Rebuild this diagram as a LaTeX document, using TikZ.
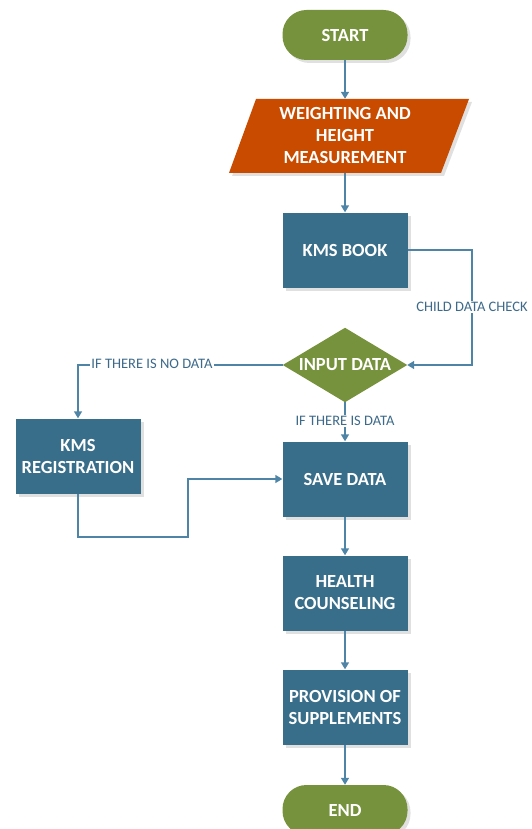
\documentclass[tikz,border=0pt]{standalone}
\usepackage{fontspec}
\setmainfont{Carlito}
\usetikzlibrary{arrows.meta,shadows,backgrounds}

\definecolor{olivegreen}{HTML}{76923C}
\definecolor{burntorange}{HTML}{C84B00}
\definecolor{steelbox}{HTML}{386E8A}
\definecolor{flowline}{HTML}{4E84A6}
\definecolor{labeltext}{HTML}{3D6A8A}

\tikzset{
  softshadow/.style={drop shadow={shadow xshift=3pt, shadow yshift=-3pt, opacity=0.12, fill=black}},
  boxfont/.style={text=white, font=\bfseries\fontsize{18.5}{22}\selectfont},
  terminal/.style={fill=olivegreen, rounded corners=24pt, minimum width=125pt, minimum height=50pt,
    boxfont, softshadow},
  process/.style={fill=steelbox, minimum width=125pt, minimum height=75pt, align=center,
    boxfont, softshadow},
  decision/.style={boxfont, minimum width=124pt, minimum height=74pt, inner sep=0pt},
  flow/.style={draw=flowline, line width=1.5pt, -{Triangle[width=8pt,length=7pt]}},
  flowlabel/.style={fill=white, inner sep=1pt, text=labeltext, font=\fontsize{14.5}{17}\selectfont}
}

\begin{document}
\begin{tikzpicture}[x=1pt, y=-1pt]
        \useasboundingbox (0,0) rectangle (532,829);

        % Main column
        \node[terminal] (start) at (345,35) {START};
        \node[align=center, boxfont, minimum width=160pt, minimum height=74pt] (measure) at (345,136)
              {WEIGHTING AND\\HEIGHT\\MEASUREMENT};
        \node[process] (book) at (345,250) {KMS BOOK};
        \node[decision] (input) at (345,365) {INPUT DATA};
        \node[process] (save) at (345,479) {SAVE DATA};
        \node[process] (health) at (345,593) {HEALTH\\COUNSELING};
        \node[process] (supply) at (345,707) {PROVISION OF\\SUPPLEMENTS};
        \node[terminal] (finish) at (345,810) {END};

        % Side box
        \node[process] (register) at (78,456) {KMS\\REGISTRATION};

        % Parallelogram and diamond behind their texts
        \begin{pgfonlayer}{background}
          \fill[black, opacity=0.12, shift={(3,3)}] (229,173) -- (256,99) -- (469,99) -- (441,173) -- cycle;
          \fill[burntorange] (229,173) -- (256,99) -- (469,99) -- (441,173) -- cycle;
          \fill[olivegreen] (input.north) -- (input.east) -- (input.south) -- (input.west) -- cycle;
        \end{pgfonlayer}

        % Connectors
        \draw[flow] (start) -- (measure);
        \draw[flow] (measure) -- (book);
        \coordinate (checkbend) at (472,250);
        \draw[flow] (book.east) -- (checkbend) |- (input.east);
        \node[flowlabel] (checklabel) at (472,307) {CHILD DATA CHECK};
        \draw[flow] (input.west) -| (register.north);
        \node[flowlabel] (nolabel) at (152,364) {IF THERE IS NO DATA};
        \draw[flow] (input.south) -- (save.north);
        \node[flowlabel] (yeslabel) at (345,421) {IF THERE IS DATA};
        \coordinate (regbend) at (188,537);
        \draw[flow] (register.south) |- (regbend) |- (save.west);
        \draw[flow] (save) -- (health);
        \draw[flow] (health) -- (supply);
        \draw[flow] (supply) -- (finish);
      \end{tikzpicture}
\end{document}
